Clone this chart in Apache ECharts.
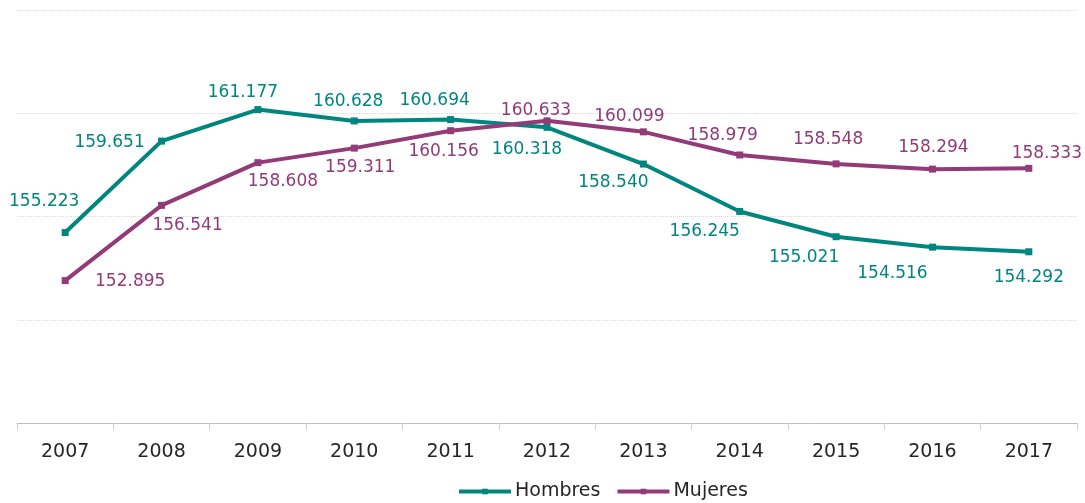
<!DOCTYPE html>
<html>
<head>
<meta charset="utf-8">
<script src="https://cdn.jsdelivr.net/npm/echarts@6/dist/echarts.min.js"></script>
<style>
  html, body { margin: 0; padding: 0; background: #fff; }
  #chart { width: 1085px; height: 503px; }
</style>
</head>
<body>
<div id="chart"></div>
<script>
var years = ["2007", "2008", "2009", "2010", "2011", "2012", "2013", "2014", "2015", "2016", "2017"];
var hombres = [155.223, 159.651, 161.177, 160.628, 160.694, 160.318, 158.540, 156.245, 155.021, 154.516, 154.292];
var mujeres = [152.895, 156.541, 158.608, 159.311, 160.156, 160.633, 160.099, 158.979, 158.548, 158.294, 158.333];

// label placement (offset from the marker), kept apart from the values
var hombresLabelOffset = [[-21, -31], [-52, 1], [-15, -17], [-6, -19], [-16, -19], [-20, 22], [-30, 19], [-35, 20], [-32, 21], [-40, 26], [0, 26]];
var mujeresLabelOffset = [[65, 1], [26, 20], [25, 19], [6, 19], [-7, 21], [-11, -10], [-14, -15], [-17, -19], [-8, -24], [1, -22], [18, -15]];

var teal = "#00857f";
var purple = "#923b78";

function withLabels(values, offsets) {
  return values.map(function (v, i) {
    return {
      value: v,
      label: { offset: offsets[i] }
    };
  });
}

var myChart = echarts.init(document.getElementById("chart"));
var option = {
  animation: false,
  textStyle: { fontFamily: "DejaVu Sans" },
  grid: { left: 17, right: 8, top: 10, bottom: 80 },
  legend: {
    left: 452,
    top: 477,
    itemWidth: 52,
    itemHeight: 7,
    itemGap: 15,
    lineStyle: { width: 4 },
    textStyle: { fontSize: 19, color: "#262626", fontFamily: "DejaVu Sans", padding: [0, 0, 0, -1] },
    data: ["Hombres", "Mujeres"]
  },
  xAxis: {
    type: "category",
    data: years,
    boundaryGap: true,
    axisLine: { lineStyle: { color: "#bfbfbf", width: 1 } },
    axisTick: { show: true, length: 7, lineStyle: { color: "#d0d0d0" } },
    axisLabel: { fontSize: 19, color: "#262626", margin: 20 }
  },
  yAxis: {
    type: "value",
    min: 146,
    max: 166,
    interval: 5,
    axisLabel: { show: false },
    axisLine: { show: false },
    axisTick: { show: false },
    splitLine: { lineStyle: { color: "#d9d9d9", type: "dotted", width: 1 } }
  },
  series: [
    {
      name: "Hombres",
      type: "line",
      data: withLabels(hombres, hombresLabelOffset),
      symbol: "rect",
      symbolSize: 7,
      lineStyle: { width: 4, color: teal },
      itemStyle: { color: teal },
      label: {
        show: true,
        position: "inside",
        align: "center",
        verticalAlign: "middle",
        fontSize: 17,
        color: teal,
        formatter: function (p) { return p.value.toFixed(3); }
      }
    },
    {
      name: "Mujeres",
      type: "line",
      data: withLabels(mujeres, mujeresLabelOffset),
      symbol: "rect",
      symbolSize: 7,
      lineStyle: { width: 4, color: purple },
      itemStyle: { color: purple },
      label: {
        show: true,
        position: "inside",
        align: "center",
        verticalAlign: "middle",
        fontSize: 17,
        color: purple,
        formatter: function (p) { return p.value.toFixed(3); }
      }
    }
  ]
};
myChart.setOption(option);
</script>
</body>
</html>
